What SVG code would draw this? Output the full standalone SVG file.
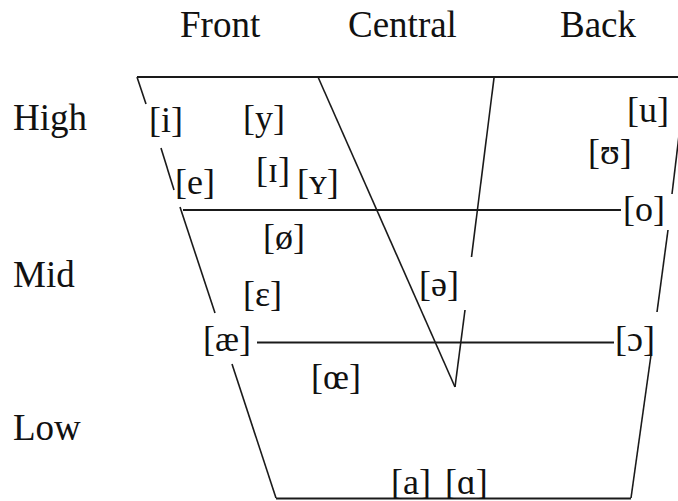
<svg xmlns="http://www.w3.org/2000/svg" width="678" height="501" viewBox="0 0 678 501">
<style>
text{font-family:"Liberation Serif","Times New Roman",serif;fill:#111}
.h{font-size:37px}
.v{font-size:36px}
.ln{stroke:#1a1a1a;stroke-width:1.6;fill:none}
.hz{stroke:#1a1a1a;stroke-width:2;fill:none}
</style>
<rect width="678" height="501" fill="#fff"/>
<g id="connectors">
<line class="hz" x1="137" y1="77" x2="678" y2="77"/>
<line class="hz" x1="183" y1="210" x2="621" y2="210"/>
<line class="hz" x1="257" y1="342.5" x2="614" y2="342.5"/>
<line class="hz" x1="276" y1="498.5" x2="631" y2="498.5"/>
<line class="ln" x1="137" y1="77" x2="146" y2="104"/>
<line class="ln" x1="161" y1="148" x2="174" y2="190"/>
<line class="ln" x1="180" y1="207" x2="215" y2="313"/>
<line class="ln" x1="232" y1="364" x2="276" y2="498"/>
<line class="ln" x1="318" y1="77" x2="455" y2="387"/>
<line class="ln" x1="494" y1="78" x2="471.5" y2="257"/>
<line class="ln" x1="465" y1="310" x2="455" y2="387"/>
<line class="ln" x1="686" y1="77" x2="672" y2="194"/>
<line class="ln" x1="668" y1="230" x2="657" y2="312"/>
<line class="ln" x1="651" y1="355" x2="631" y2="498"/>
</g>
<g id="label-front"><text class="h" x="180" y="37">Front</text></g>
<g id="label-central"><text class="h" x="348" y="37">Central</text></g>
<g id="label-back"><text class="h" x="560" y="37">Back</text></g>
<g id="label-high"><text class="h" x="13" y="130">High</text></g>
<g id="label-mid"><text class="h" x="13" y="287">Mid</text></g>
<g id="label-low"><text class="h" x="13" y="440">Low</text></g>
<g id="v-i"><text class="v" x="149" y="132">[i]</text></g>
<g id="v-y"><text class="v" x="243" y="130">[y]</text></g>
<g id="v-e"><text class="v" x="175" y="194">[e]</text></g>
<g id="v-I"><text class="v" x="256" y="182">[ɪ]</text></g>
<g id="v-Y"><text class="v" x="297" y="194">[ʏ]</text></g>
<g id="v-u"><text class="v" x="627" y="122">[u]</text></g>
<g id="v-U"><text class="v" x="588" y="164">[ʊ]</text></g>
<g id="v-o"><text class="v" x="623" y="221">[o]</text></g>
<g id="v-oslash"><text class="v" x="263" y="249">[ø]</text></g>
<g id="v-epsilon"><text class="v" x="243" y="306">[ɛ]</text></g>
<g id="v-schwa"><text class="v" x="419" y="296">[ə]</text></g>
<g id="v-ae"><text class="v" x="203" y="351">[æ]</text></g>
<g id="v-openo"><text class="v" x="615" y="351">[ɔ]</text></g>
<g id="v-oe"><text class="v" x="311" y="389">[œ]</text></g>
<g id="v-a"><text class="v" x="391" y="494">[a]</text></g>
<g id="v-alpha"><text class="v" x="445" y="494">[ɑ]</text></g>
</svg>
